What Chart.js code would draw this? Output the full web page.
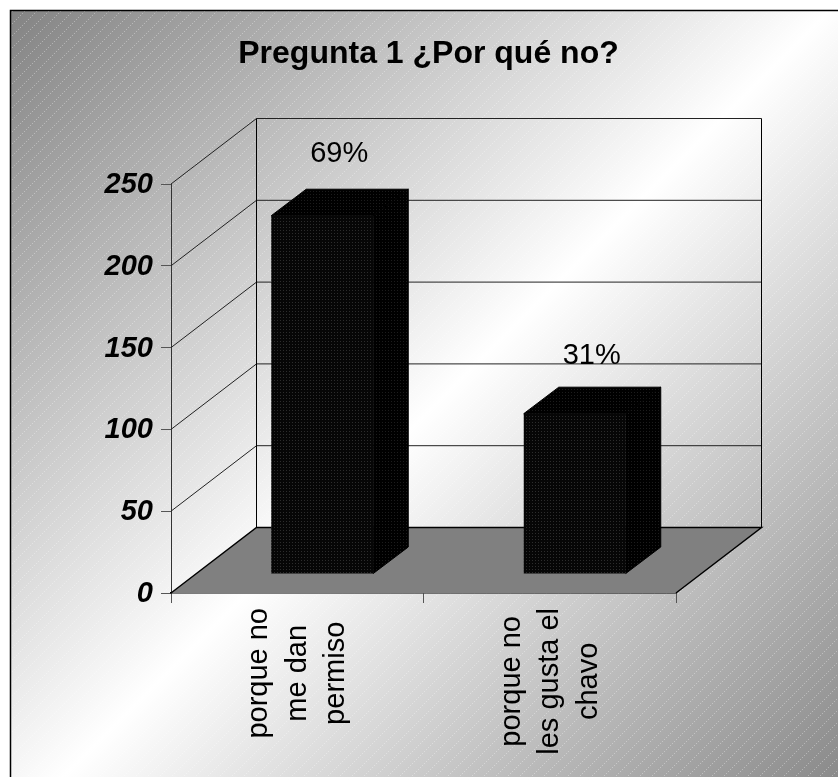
<!DOCTYPE html>
<html>
<head>
<meta charset="utf-8">
<title>Pregunta 1</title>
<script src="https://cdn.jsdelivr.net/npm/chart.js@4/dist/chart.umd.min.js"></script>
<style>
    html, body { margin: 0; padding: 0; background: #fff; }
    canvas { display: block; }
</style>
</head>
<body>
<canvas id="chart" width="838" height="777"></canvas>
<script>
const titleText = "Pregunta 1 ¿Por qué no?";
const categories = [["porque no", "me dan", "permiso"], ["porque no", "les gusta el", "chavo"]];
const respuestas = [219, 98];
const percentLabels = ["69%", "31%"];
const yTicks = [0, 50, 100, 150, 200, 250];

const FONT = "'Liberation Sans', Arial, sans-serif";
const WALL = { dx: 85.5, dy: -65.5 };   // depth of the whole box
const BAR_OFFSET = { dx: 25, dy: -19 }; // where the bars sit inside the box
const BAR_DEPTH = { dx: 35, dy: -26.5 };
const LABEL_NUDGE = [-2, 2];

function dotPattern(size, step, bg, dot){
    let c = document.createElement("canvas");
    c.width = c.height = size;
    let g = c.getContext("2d");
    g.fillStyle = bg;
    g.fillRect(0, 0, size, size);
    g.fillStyle = dot;
    for(let x = 0; x < size; x += step){
        for(let y = 0; y < size; y += step){
            g.fillRect(x, y, 1, 1);
        }
    }
    return g.createPattern(c, "repeat");
}

function stripePattern(){
    let c = document.createElement("canvas");
    c.width = c.height = 12;
    let g = c.getContext("2d");
    g.fillStyle = "rgba(255,255,255,0.32)";
    for(let i = 0; i < 12; i += 2){
        g.fillRect(i, 11 - i, 1, 1);
    }
    return document.createElement("canvas").getContext("2d").createPattern(c, "repeat");
}

function poly(ctx, pts, fill, stroke, lw){
    ctx.beginPath();
    pts.forEach((p, i) => i ? ctx.lineTo(p[0], p[1]) : ctx.moveTo(p[0], p[1]));
    ctx.closePath();
    if(fill){ ctx.fillStyle = fill; ctx.fill(); }
    if(stroke){ ctx.strokeStyle = stroke; ctx.lineWidth = lw || 1; ctx.stroke(); }
}

const frontFill = dotPattern(3, 3, "#060606", "#2c2c2c");
const sideFill = dotPattern(3, 3, "#000000", "#1c1c1c");

const boxPlugin = {
    id: "box3d",
    afterLayout(chart){
        // title is centered a bit right of the plot in the original
        chart.titleBlock.left = 19;
        chart.titleBlock.right = 838;
    },
    beforeDraw(chart){
        let ctx = chart.ctx;
        ctx.save();
        ctx.fillStyle = "#fff";
        ctx.fillRect(0, 0, 838, 777);
        let grad = ctx.createLinearGradient(0, 0, 808, 808);
        grad.addColorStop(0, "#808080");
        grad.addColorStop(0.52, "#ffffff");
        grad.addColorStop(1, "#8a8a8a");
        ctx.fillStyle = grad;
        ctx.fillRect(10, 10, 828, 767);
        ctx.fillStyle = stripePattern();
        ctx.fillRect(10, 10, 828, 767);
        ctx.strokeStyle = "#000";
        ctx.lineWidth = 1.5;
        ctx.beginPath();
        ctx.moveTo(10.5, 777);
        ctx.lineTo(10.5, 10.5);
        ctx.lineTo(838, 10.5);
        ctx.stroke();
        ctx.restore();
    },
    beforeDatasetsDraw(chart){
        let ctx = chart.ctx;
        let a = chart.chartArea;
        let y = chart.scales.y;
        let b = a.bottom, l = a.left, r = a.right;
        ctx.save();
        // floor
        poly(ctx, [[l, b], [l + WALL.dx, b + WALL.dy], [r + WALL.dx, b + WALL.dy], [r, b]], "#808080");
        // grid lines along side wall and back wall
        ctx.strokeStyle = "#222";
        ctx.lineWidth = 1;
        yTicks.forEach(t => {
            if(t === 0) return;
            let py = y.getPixelForValue(t);
            ctx.beginPath();
            ctx.moveTo(l, py);
            ctx.lineTo(l + WALL.dx, py + WALL.dy);
            ctx.lineTo(r + WALL.dx, py + WALL.dy);
            ctx.stroke();
        });
        ctx.strokeStyle = "#000";
        ctx.beginPath();
        ctx.moveTo(l + WALL.dx, b + WALL.dy);
        ctx.lineTo(l + WALL.dx, a.top + WALL.dy);
        ctx.moveTo(r + WALL.dx, b + WALL.dy);
        ctx.lineTo(r + WALL.dx, a.top + WALL.dy);
        ctx.stroke();
        // floor edges
        ctx.lineWidth = 1.5;
        ctx.beginPath();
        ctx.moveTo(l, b);
        ctx.lineTo(l + WALL.dx, b + WALL.dy);
        ctx.lineTo(r + WALL.dx, b + WALL.dy);
        ctx.lineTo(r, b);
        ctx.stroke();
        // top and right sides of the bars
        ctx.translate(BAR_OFFSET.dx, BAR_OFFSET.dy);
        chart.getDatasetMeta(0).data.forEach(bar => {
            let p = bar.getProps(["x", "y", "base", "width"]);
            let x0 = p.x - p.width / 2, x1 = p.x + p.width / 2;
            let d = BAR_DEPTH;
            poly(ctx, [[x0, p.y], [x0 + d.dx, p.y + d.dy], [x1 + d.dx, p.y + d.dy], [x1, p.y]], sideFill, "#000");
            poly(ctx, [[x1, p.y], [x1 + d.dx, p.y + d.dy], [x1 + d.dx, p.base + d.dy], [x1, p.base]], sideFill, "#000");
        });
        ctx.restore();
        // front faces are drawn by the bar controller, moved into the box
        ctx.save();
        ctx.translate(BAR_OFFSET.dx, BAR_OFFSET.dy);
    },
    afterDatasetsDraw(chart){
        let ctx = chart.ctx;
        ctx.restore();
        ctx.save();
        ctx.font = "29px " + FONT;
        ctx.fillStyle = "#000";
        ctx.textAlign = "center";
        ctx.textBaseline = "alphabetic";
        chart.getDatasetMeta(0).data.forEach((bar, i) => {
            let p = bar.getProps(["x", "y"]);
            ctx.fillText(percentLabels[i], p.x + BAR_OFFSET.dx + 17, p.y + BAR_OFFSET.dy - 52 + LABEL_NUDGE[i]);
        });
        // rotated category labels, lines centered on the longest one
        let x = chart.scales.x;
        categories.forEach((lines, i) => {
            let tx = x.getPixelForTick(i);
            let longest = Math.max(...lines.map(s => ctx.measureText(s).width));
            lines.forEach((s, j) => {
                ctx.save();
                ctx.translate(tx + 8.5 + (j - 1) * 38.5, 608 + longest / 2);
                ctx.rotate(-Math.PI / 2);
                ctx.fillText(s, 0, 0);
                ctx.restore();
            });
        });
        ctx.restore();
    }
};

new Chart(document.getElementById("chart"), {
    type: "bar",
    data: {
        labels: categories,
        datasets: [{
            data: respuestas,
            backgroundColor: frontFill,
            borderWidth: 0,
            barPercentage: 0.404,
            categoryPercentage: 1,
            clip: false
        }]
    },
    options: {
        responsive: false,
        devicePixelRatio: 1,
        animation: false,
        layout: { padding: { top: 0, left: 0, right: 162, bottom: 0 } },
        plugins: {
            legend: { display: false },
            tooltip: { enabled: false },
            title: {
                display: true,
                text: titleText,
                color: "#000",
                font: { family: FONT, size: 32, weight: "bold", lineHeight: 1.2 },
                padding: { top: 35, bottom: 110.6 }
            }
        },
        scales: {
            x: {
                afterFit(s){ s.height = 184; },
                border: { display: true, color: "#000", width: 1.5 },
                grid: { drawOnChartArea: false, color: "#555", tickLength: 10 },
                ticks: { display: false }
            },
            y: {
                min: 0,
                max: 250,
                afterFit(s){ s.width = 171; },
                afterBuildTicks(s){ s.ticks = yTicks.map(v => ({ value: v })); },
                border: { display: true, color: "#333", width: 1 },
                grid: { drawOnChartArea: false, color: "#555", tickLength: 10 },
                ticks: {
                    color: "#000",
                    padding: 8,
                    labelOffset: 1,
                    font: { family: FONT, size: 29, weight: "bold", style: "italic" }
                }
            }
        }
    },
    plugins: [boxPlugin]
});
</script>
</body>
</html>
